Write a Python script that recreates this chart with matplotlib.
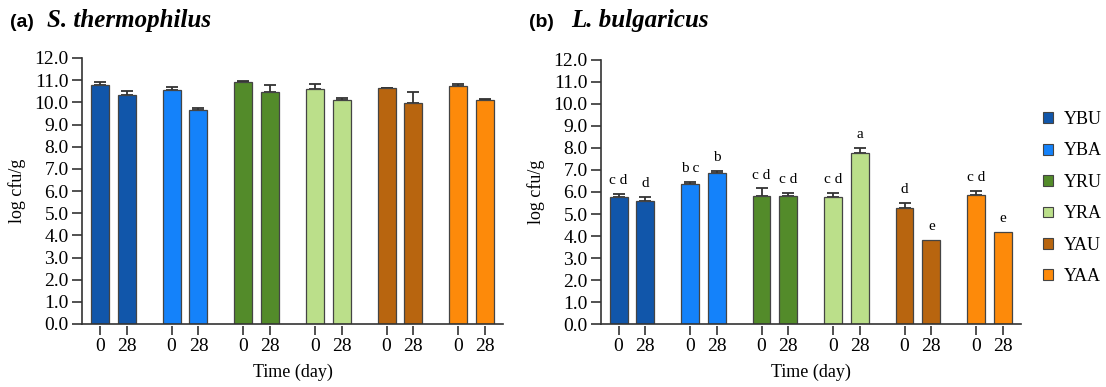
import numpy as np
import matplotlib
matplotlib.use("Agg")
import matplotlib.pyplot as plt
from matplotlib.patches import Patch

plt.rcParams['font.family'] = ['Liberation Serif', 'DejaVu Serif']

# Data
groups = ['YBU', 'YBA', 'YRU', 'YRA', 'YAU', 'YAA']
days = ['0', '28']
colors = ['#1156AA', '#1482FA', '#538B2A', '#BBDF8A', '#B8650F', '#FD8A0A']

# S. thermophilus (log cfu/g)
st_day0 = [10.78, 10.55, 10.92, 10.62, 10.63, 10.74]
st_day28 = [10.33, 9.67, 10.48, 10.10, 9.98, 10.12]
st_err0 = [0.12, 0.15, 0.04, 0.22, 0.03, 0.10]
st_err28 = [0.20, 0.06, 0.30, 0.11, 0.47, 0.04]

# L. bulgaricus (log cfu/g)
lb_day0 = [5.77, 6.35, 5.80, 5.77, 5.27, 5.86]
lb_day28 = [5.59, 6.88, 5.81, 7.78, 3.84, 4.19]
lb_err0 = [0.15, 0.11, 0.36, 0.18, 0.25, 0.20]
lb_err28 = [0.17, 0.07, 0.14, 0.22, 0.0, 0.0]
lb_let0 = ['c d', 'b c', 'c d', 'c d', 'd', 'c d']
lb_let28 = ['d', 'b', 'c d', 'a', 'e', 'e']

W, H = 1106, 387
fig = plt.figure(figsize=(W / 100, H / 100), dpi=100)

axc = '#333333'
pair = 0.375
bw = 0.25
yt = np.arange(0, 12.5, 1.0)


def panel(rect, v0, v28, e0, e28, let0=None, let28=None):
    ax = fig.add_axes(rect)
    # x ticks hang a little below the axis line
    ax.spines['bottom'].set_position(('outward', 1.5))
    ax.spines['bottom'].set_visible(False)
    for s in ['top', 'right']:
        ax.spines[s].set_visible(False)
    ax.spines['left'].set_color(axc)
    ax.spines['left'].set_linewidth(1.2)
    ax.axhline(0, color=axc, lw=1.2, clip_on=False, zorder=4)

    x = np.arange(len(groups))
    pos = np.concatenate([x, x + pair])
    vals = np.array(v0 + v28)
    errs = np.array(e0 + e28)
    cols = colors + colors
    ax.bar(pos, vals, width=bw, color=cols, edgecolor='#444444', linewidth=0.9, zorder=3)
    m = errs > 0
    ax.errorbar(pos[m], vals[m], yerr=[np.zeros(m.sum()), errs[m]], fmt='none',
                ecolor=axc, elinewidth=1.3, capsize=4, capthick=1.3, zorder=2)
    if let0 is not None:
        lets = let0 + let28
        for p, v, e, t in zip(pos, vals, errs, lets):
            ax.text(p, v + e + 0.45, t, ha='center', va='baseline', fontsize=11)

    ax.set_xlim(-0.25, len(groups) - 1 + pair + 0.25)
    ax.set_ylim(0, 12)
    ax.set_yticks(yt)
    ax.set_yticklabels(['%.1f' % t for t in yt], fontsize=14)
    ax.set_xticks(pos)
    ax.set_xticklabels(days[:1] * len(groups) + days[1:] * len(groups), fontsize=14)
    ax.tick_params(axis='y', length=7, width=1.2, color=axc, pad=2.5)
    ax.tick_params(axis='x', length=6.5, width=1.2, color=axc, pad=2)
    ax.set_xlabel('Time (day)', fontsize=13)
    ax.set_ylabel('log cfu/g', fontsize=13)
    ax.xaxis.set_label_coords(0.5, -0.15)
    ax.yaxis.set_label_coords(-0.133, 0.5)
    return ax


ax1 = panel([82 / W, 1 - 324 / H, 421 / W, 266 / H], st_day0, st_day28, st_err0, st_err28)
ax2 = panel([600.7 / W, 1 - 324.3 / H, 420 / W, 264.6 / H], lb_day0, lb_day28, lb_err0, lb_err28,
            lb_let0, lb_let28)

# Titles
yb = 1 - 27 / H
fig.text(10 / W, yb, '(a)', family='Liberation Sans', weight='bold', fontsize=14, va='baseline')
fig.text(47 / W, yb, 'S. thermophilus', weight='bold', style='italic', fontsize=18, va='baseline')
fig.text(529 / W, yb, '(b)', family='Liberation Sans', weight='bold', fontsize=14, va='baseline')
fig.text(571 / W, yb, 'L. bulgaricus', weight='bold', style='italic', fontsize=18, va='baseline')

handles = [Patch(facecolor=c, edgecolor='#444444', linewidth=0.8) for c in colors]
fig.legend(handles, groups, loc='upper left', bbox_to_anchor=(1034 / W, 1 - 102 / H),
           frameon=False, fontsize=13, handlelength=0.55, handleheight=0.55,
           handletextpad=0.6, labelspacing=0.8, borderpad=0)

fig.savefig('out.png', dpi=100)
